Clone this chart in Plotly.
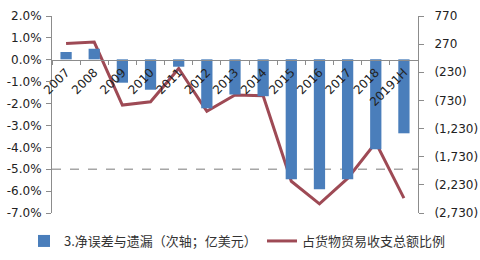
import plotly.graph_objects as go

categories = ["2007", "2008", "2009", "2010", "2011", "2012", "2013", "2014",
              "2015", "2016", "2017", "2018", "20191H"]
net_errors = [130, 188, -415, -540, -131, -870, -625, -655, -2132, -2310, -2132, -1599, -1314]
ratio_pct = [0.74, 0.81, -2.07, -1.92, -0.40, -2.35, -1.61, -1.64, -5.55, -6.58, -5.42, -3.78, -6.32]
threshold_pct = -5.0

left_ticks = [2, 1, 0, -1, -2, -3, -4, -5, -6, -7]
left_labels = ["2.0%", "1.0%", "0.0%", "-1.0%", "-2.0%", "-3.0%", "-4.0%", "-5.0%", "-6.0%", "-7.0%"]
right_ticks = [770, 270, -230, -730, -1230, -1730, -2230, -2730]
right_labels = ["770", "270", "(230)", "(730)", "(1,230)", "(1,730)", "(2,230)", "(2,730)"]

bar_name = "3.净误差与遗漏（次轴；亿美元）"
line_name = "占货物贸易收支总额比例"

fig = go.Figure()
fig.add_trace(go.Bar(x=categories, y=net_errors, name=bar_name, yaxis="y2", legend="legend",
                     marker=dict(color="#4A7EBB", line=dict(width=0))))
fig.add_trace(go.Scatter(x=categories, y=ratio_pct, name=line_name, yaxis="y", legend="legend2",
                         mode="lines", line=dict(color="#9E4A55", width=3)))

fig.add_shape(type="line", xref="paper", x0=0, x1=1, yref="y", y0=threshold_pct, y1=threshold_pct,
              line=dict(color="#A6A6A6", width=1.5, dash="dash"), layer="below")

axis_font = dict(family="DejaVu Sans", size=12, color="#222")
legend_font = dict(family="Noto Sans CJK SC", size=13, color="#333")

fig.update_layout(
    width=480, height=260,
    margin=dict(l=52, r=62, t=16, b=47),
    paper_bgcolor="white", plot_bgcolor="white",
    font=dict(family="DejaVu Sans, Noto Sans CJK SC", size=12, color="#222"),
    bargap=0.6,
    showlegend=True,
    legend=dict(orientation="h", xref="container", x=24 / 480, xanchor="left",
                yref="container", y=1 - 241 / 260, yanchor="middle",
                font=legend_font, itemwidth=30, bgcolor="rgba(0,0,0,0)"),
    legend2=dict(orientation="h", xref="container", x=262 / 480, xanchor="left",
                 yref="container", y=1 - 241 / 260, yanchor="middle",
                 font=legend_font, itemwidth=30, bgcolor="rgba(0,0,0,0)"),
    xaxis=dict(type="category", anchor="free", position=7/9,
               showline=True, linecolor="#8C8C8C", linewidth=1,
               ticks="outside", ticklen=4, tickcolor="#8C8C8C", tickson="boundaries",
               tickangle=-45, tickfont=axis_font, showgrid=False, zeroline=False,
               automargin=False, range=[-0.5, 12.5]),
    yaxis=dict(range=[-7, 2], tickvals=left_ticks, ticktext=left_labels,
               showline=True, linecolor="#8C8C8C", linewidth=1,
               ticks="outside", ticklen=5, tickcolor="#8C8C8C", ticklabelstandoff=2,
               showgrid=False, zeroline=False, tickfont=axis_font, automargin=False),
    yaxis2=dict(range=[-2730, 770], tickvals=right_ticks, ticktext=right_labels,
                overlaying="y", side="right", anchor="free", position=1,
                showline=True, linecolor="#8C8C8C", linewidth=1,
                ticks="outside", ticklen=5, tickcolor="#8C8C8C", ticklabelstandoff=8,
                showgrid=False, zeroline=False, tickfont=axis_font, automargin=False),
)

fig.write_html("out.html")
